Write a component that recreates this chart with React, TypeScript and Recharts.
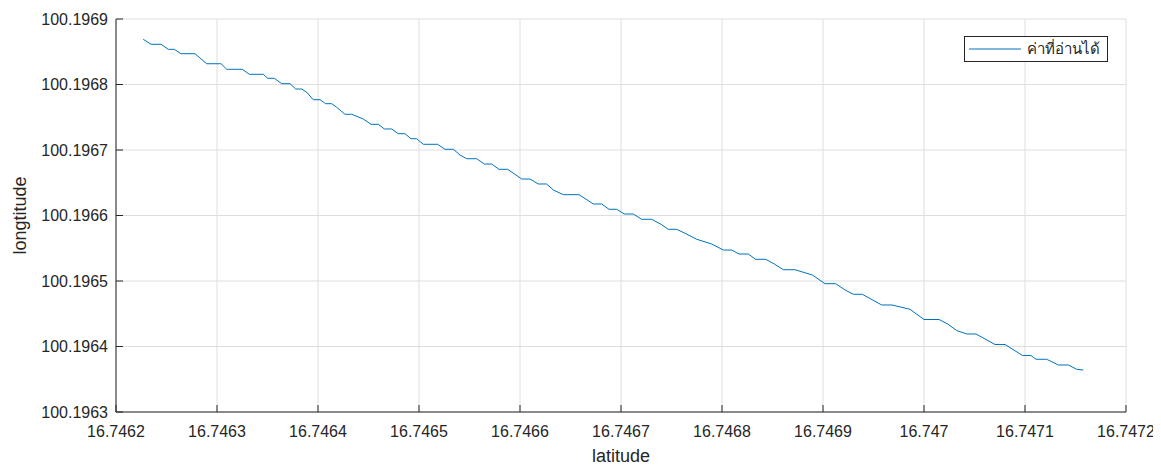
import React from 'react';
import { LineChart, Line, XAxis, YAxis, CartesianGrid, Legend } from 'recharts';

const latitude = [
  16.746227, 16.7462347, 16.7462446, 16.7462518, 16.7462577, 16.7462644, 16.7462782, 16.7462898,
  16.746304, 16.7463096, 16.7463251, 16.746332, 16.7463458, 16.7463502, 16.7463567, 16.7463641,
  16.7463723, 16.7463779, 16.7463839, 16.7463888, 16.7463953, 16.746402, 16.7464076, 16.7464136,
  16.7464185, 16.7464267, 16.7464334, 16.7464449, 16.7464525, 16.7464597, 16.7464657, 16.746473,
  16.7464795, 16.7464861, 16.7464921, 16.7464977, 16.7465043, 16.7465185, 16.7465257, 16.746534,
  16.7465406, 16.7465472, 16.7465571, 16.7465647, 16.746572, 16.7465792, 16.7465878, 16.7466017,
  16.7466099, 16.7466181, 16.7466264, 16.746633, 16.7466429, 16.7466584, 16.7466726, 16.7466809,
  16.7466881, 16.7466958, 16.7467033, 16.7467122, 16.7467205, 16.7467304, 16.7467396, 16.7467468,
  16.7467552, 16.7467634, 16.746775, 16.7467898, 16.7468013, 16.7468096, 16.7468168, 16.746826,
  16.7468334, 16.7468433, 16.7468518, 16.7468607, 16.7468723, 16.7468894, 16.746902, 16.7469126,
  16.7469218, 16.74693, 16.7469389, 16.7469581, 16.7469683, 16.7469861, 16.747, 16.7470149,
  16.7470235, 16.7470324, 16.7470423, 16.7470515, 16.7470703, 16.7470802, 16.7470975, 16.7471059,
  16.7471109, 16.7471215, 16.747133, 16.7471429, 16.7471512, 16.7471577,
];

const longitude = [
  100.196869, 100.1968614, 100.1968614, 100.1968537, 100.1968537, 100.196847, 100.196847, 100.1968317,
  100.1968317, 100.1968232, 100.1968232, 100.1968156, 100.1968156, 100.1968095, 100.1968095, 100.1968012,
  100.1968012, 100.1967931, 100.1967931, 100.1967881, 100.1967768, 100.1967768, 100.1967707, 100.1967707,
  100.1967652, 100.1967545, 100.1967545, 100.1967473, 100.1967392, 100.1967392, 100.1967321, 100.1967321,
  100.1967249, 100.1967249, 100.1967172, 100.1967172, 100.1967087, 100.1967087, 100.1967011, 100.1967011,
  100.1966924, 100.1966867, 100.1966867, 100.1966786, 100.1966786, 100.1966705, 100.1966705, 100.1966557,
  100.1966557, 100.1966481, 100.1966481, 100.1966389, 100.1966318, 100.1966318, 100.1966176, 100.1966176,
  100.1966095, 100.1966095, 100.1966023, 100.1966023, 100.1965942, 100.1965942, 100.1965866, 100.1965789,
  100.1965789, 100.1965728, 100.1965637, 100.1965565, 100.1965473, 100.1965473, 100.1965412, 100.1965412,
  100.1965331, 100.1965331, 100.196526, 100.1965172, 100.1965172, 100.1965092, 100.1964959, 100.1964959,
  100.1964863, 100.1964797, 100.1964797, 100.1964634, 100.1964634, 100.1964568, 100.1964412, 100.1964412,
  100.1964343, 100.1964244, 100.1964191, 100.1964191, 100.1964031, 100.1964031, 100.1963863, 100.1963863,
  100.1963805, 100.1963805, 100.1963718, 100.1963718, 100.1963652, 100.1963641,
];

const xTicks = [16.7462, 16.7463, 16.7464, 16.7465, 16.7466, 16.7467, 16.7468, 16.7469, 16.747, 16.7471, 16.7472];
const yTicks = [100.1963, 100.1964, 100.1965, 100.1966, 100.1967, 100.1968, 100.1969];

const seriesName = 'ค่าที่อ่านได้';
const xLabel = 'latitude';
const yLabel = 'longtitude';

const data = latitude.map((lat, i) => ({ lat, lon: longitude[i] }));

const AXIS = '#262626';
const LINE = '#0072BD';
const FONT = '"Liberation Sans", Arial, Helvetica, sans-serif';

const fmtX = (v: number) => v.toFixed(4).replace(/0+$/, '').replace(/\.$/, '');
const fmtY = (v: number) => v.toFixed(4);

const XTitle = (props: any) => {
  const vb = props.viewBox || {};
  return (
    <text x={vb.x + vb.width / 2} y={vb.y + vb.height - 4} textAnchor="middle" fill={AXIS} fontSize={18} fontFamily={FONT}>
      {xLabel}
    </text>
  );
};

const YTitle = (props: any) => {
  const vb = props.viewBox || {};
  const cx = vb.x + 12;
  const cy = vb.y + vb.height / 2;
  return (
    <text x={cx} y={cy} dy="0.35em" textAnchor="middle" transform={`rotate(-90 ${cx} ${cy})`} fill={AXIS} fontSize={18} fontFamily={FONT}>
      {yLabel}
    </text>
  );
};

const LegendBox = (props: any) => {
  const item = (props.payload && props.payload[0]) || { value: seriesName, color: LINE };
  return (
    <div
      style={{
        boxSizing: 'border-box',
        width: 144,
        height: 26,
        border: `1px solid ${AXIS}`,
        background: '#fff',
        display: 'flex',
        alignItems: 'center',
        fontSize: 15,
        color: AXIS,
        fontFamily: FONT,
        whiteSpace: 'nowrap',
      }}
    >
      <svg width={60} height={10} style={{ flex: '0 0 auto' }}>
        <line x1={4} x2={56} y1={5} y2={5} stroke={item.color || LINE} strokeWidth={1} />
      </svg>
      <span style={{ marginLeft: 2 }}>{item.value}</span>
    </div>
  );
};

export default function App() {
  return (
    <LineChart
      width={1153}
      height={458}
      data={data}
      margin={{ top: 11, right: 35, bottom: 0, left: 0 }}
      style={{ fontFamily: FONT }}
    >
      <CartesianGrid stroke="#dedede" />
      <XAxis
        dataKey="lat"
        type="number"
        domain={[xTicks[0], xTicks[xTicks.length - 1]]}
        ticks={xTicks}
        interval={0}
        allowDataOverflow
        height={54}
        tickSize={-7}
        tickMargin={21}
        tickFormatter={fmtX}
        tick={{ fill: AXIS, fontSize: 16 }}
        axisLine={{ stroke: AXIS }}
        tickLine={{ stroke: AXIS }}
        label={<XTitle />}
      />
      <XAxis
        xAxisId="top"
        orientation="top"
        type="number"
        domain={[xTicks[0], xTicks[xTicks.length - 1]]}
        ticks={xTicks}
        interval={0}
        height={0}
        tickSize={-7}
        tick={false}
        axisLine={{ stroke: AXIS }}
        tickLine={{ stroke: AXIS }}
      />
      <YAxis
        type="number"
        domain={[yTicks[0], yTicks[yTicks.length - 1]]}
        ticks={yTicks}
        interval={0}
        allowDataOverflow
        width={108}
        tickSize={-7}
        tickMargin={15}
        tickFormatter={fmtY}
        tick={{ fill: AXIS, fontSize: 16 }}
        axisLine={{ stroke: AXIS }}
        tickLine={{ stroke: AXIS }}
        label={<YTitle />}
      />
      <YAxis
        yAxisId="right"
        orientation="right"
        type="number"
        domain={[yTicks[0], yTicks[yTicks.length - 1]]}
        ticks={yTicks}
        interval={0}
        width={0}
        tickSize={-7}
        tick={false}
        axisLine={{ stroke: AXIS }}
        tickLine={{ stroke: AXIS }}
      />
      <Legend
        layout="vertical"
        align="center"
        verticalAlign="middle"
        content={<LegendBox />}
        wrapperStyle={{ position: 'absolute', left: 956, top: 28, width: 144, height: 26 }}
      />
      <Line
        dataKey="lon"
        name={seriesName}
        type="linear"
        stroke={LINE}
        strokeWidth={1}
        dot={false}
        activeDot={false}
        isAnimationActive={false}
      />
    </LineChart>
  );
}
